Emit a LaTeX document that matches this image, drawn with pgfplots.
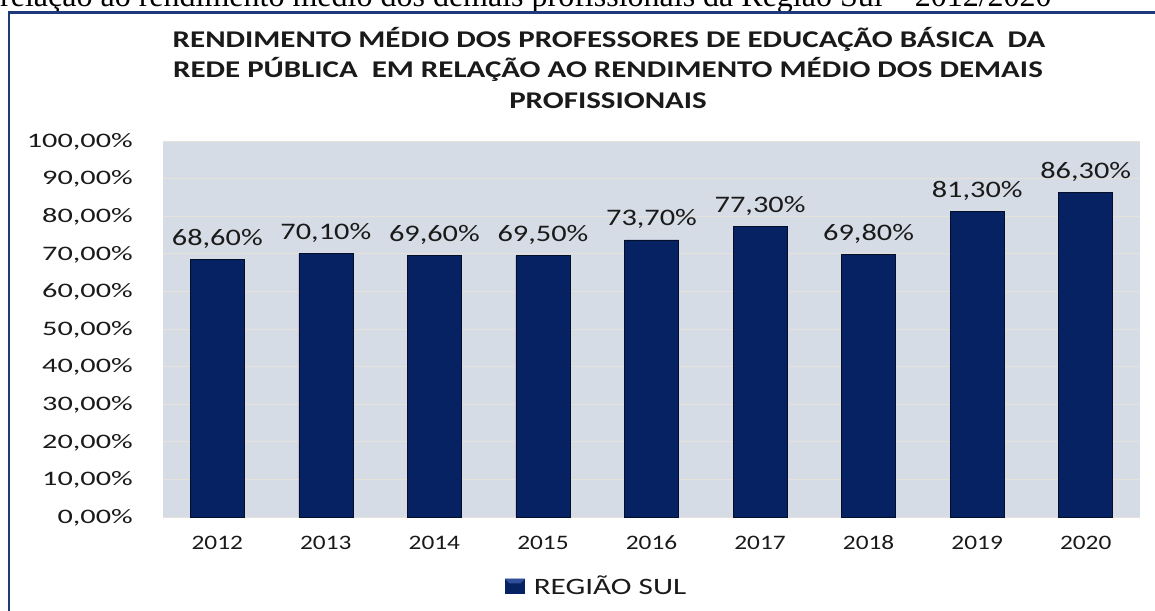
\documentclass[border=0pt]{standalone}
\usepackage{fontspec}
\usepackage{pgfplots}
\usepackage{pgfplotstable}
\pgfplotsset{compat=1.18}
\setmainfont{Carlito}
\newfontfamily\serifTNR{Liberation Serif}
\newfontfamily\titlefont{Carlito}[FakeStretch=1.29]
\newfontfamily\ytfont{Carlito}[FakeStretch=1.47]
\newfontfamily\xtfont{Carlito}[FakeStretch=1.23]
\newfontfamily\lblfont{Carlito}[FakeStretch=1.28]
\newfontfamily\legfont{Carlito}[FakeStretch=1.33]
\definecolor{barcol}{HTML}{072263}
\definecolor{bevtop}{HTML}{2F4F98}
\definecolor{bgcol}{HTML}{D6DCE5}
\definecolor{gridcol}{HTML}{E6E1DA}
\definecolor{framecol}{HTML}{1F3A7A}
\definecolor{txtcol}{HTML}{1A1A1A}
\pgfplotstableread{
x y lbl
0 68.6 68,60
1 70.1 70,10
2 69.6 69,60
3 69.5 69,50
4 73.7 73,70
5 77.3 77,30
6 69.8 69,80
7 81.3 81,30
8 86.3 86,30
}\datatable
\begin{document}
\begin{tikzpicture}
\useasboundingbox (0pt,0pt) rectangle (1155pt,610pt);
\clip (0pt,0pt) rectangle (1155pt,610pt);
\node[anchor=base west, inner sep=0pt] at (0pt,603pt) {\fontsize{32}{34}\selectfont\serifTNR relação ao rendimento médio dos demais profissionais da Região Sul – 2012/2020};
\draw[framecol, line width=2.2pt] (9pt,-10pt) -- (9pt,597.5pt) -- (1170pt,597.5pt);
\node[anchor=base, inner sep=0pt, text=txtcol] at (609pt,562pt) {\titlefont\bfseries\fontsize{24}{30}\selectfont RENDIMENTO MÉDIO DOS PROFESSORES DE EDUCAÇÃO BÁSICA \ DA};
\node[anchor=base, inner sep=0pt, text=txtcol] at (608pt,532pt) {\titlefont\bfseries\fontsize{24}{30}\selectfont REDE PÚBLICA \ EM RELAÇÃO AO RENDIMENTO MÉDIO DOS DEMAIS};
\node[anchor=base, inner sep=0pt, text=txtcol] at (608pt,501pt) {\titlefont\bfseries\fontsize{24}{30}\selectfont PROFISSIONAIS};
\begin{axis}[
  at={(163pt,93pt)}, anchor=south west,
  width=977pt, height=376pt, scale only axis,
  xmin=-0.5, xmax=8.5, ymin=0, ymax=100,
  axis line style={draw=none},
  major tick length=0pt,
  axis background/.style={fill=bgcol},
  ymajorgrids, major grid style={color=gridcol, line width=0.8pt},
  ytick={0,10,...,100},
  yticklabels={{0,00\%},{10,00\%},{20,00\%},{30,00\%},{40,00\%},{50,00\%},{60,00\%},{70,00\%},{80,00\%},{90,00\%},{100,00\%}},
  yticklabel style={anchor=base east, inner sep=0pt, xshift=-30pt, yshift=-6.3pt, font=\ytfont\fontsize{20.6}{21}\selectfont, text=txtcol},
  xtick=data,
  xticklabels={2012,2013,2014,2015,2016,2017,2018,2019,2020},
  xticklabel style={anchor=base, inner sep=0pt, yshift=-32pt, font=\xtfont\fontsize{20.6}{21}\selectfont, text=txtcol},
  ybar, bar width=54pt,
  point meta=explicit symbolic,
  nodes near coords={\pgfplotspointmeta\%},
  every node near coord/.append style={anchor=base, inner sep=0pt, yshift=14pt, font=\lblfont\fontsize{23.7}{24}\selectfont, text=txtcol},
  legend style={at={(0.350,-0.1835)}, anchor=west, draw=none, fill=none, inner sep=0pt, nodes={inner sep=0pt}, font=\legfont\fontsize{23.5}{24}\selectfont, text=txtcol},
  legend image code/.code={\fill[barcol] (0pt,-7pt) rectangle (19pt,7pt); \fill[bevtop] (0pt,7pt) -- (19pt,7pt) -- (15pt,3pt) -- (4pt,3pt) -- cycle; \path (28pt,0pt);},
]
\addplot[fill=barcol, draw=black!60!barcol, line width=0.6pt] table[x=x, y=y, meta=lbl] {\datatable};
\addlegendentry{REGIÃO SUL}
\end{axis}
\end{tikzpicture}
\end{document}
